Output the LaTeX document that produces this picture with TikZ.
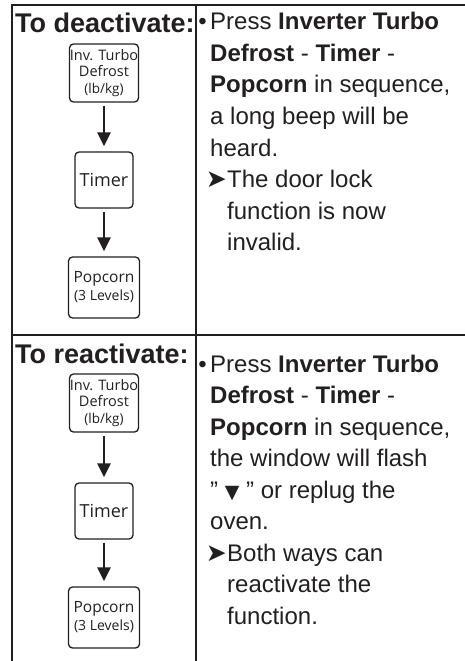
\documentclass[tikz,border=0pt]{standalone}
\usepackage{fontspec}
\setmainfont{Liberation Sans}
\newfontfamily\keyfont{Open Sans}
\newfontfamily\symfont{DejaVu Sans}
\usetikzlibrary{arrows.meta, positioning}

\definecolor{ink}{RGB}{35,31,32}

\tikzset{
	rule/.style = {draw = ink, line width = 1.4bp},
	keybox/.style = {draw = ink, line width = 1.3bp, rounded corners = 4bp, align = center, inner sep = 0pt, text = ink, font = \keyfont\fontsize{14.5bp}{16.5bp}\selectfont},
	keyarrow/.style = {draw = ink, line width = 2.6bp, -{Triangle[width = 13bp, length = 14bp]}, shorten <= 3bp, shorten >= 5bp},
	heading/.style = {anchor = base west, inner sep = 0pt, text = ink, font = \fontsize{27bp}{30bp}\selectfont\bfseries},
	body/.style = {anchor = base west, inner sep = 0pt, align = left, text = ink, font = \fontsize{24bp}{31.5bp}\selectfont},
	pointer/.style = {anchor = base east, inner sep = 0pt, text = ink, font = \symfont\fontsize{25bp}{27bp}\selectfont},
}

\begin{document}
\begin{tikzpicture}[x = 1bp, y = -1bp]
		\def\gap{31.5};
		\def\ya{30};
		\def\yb{372};
		\useasboundingbox (0,0) rectangle (465,661);
		
		% table rules
		\draw [rule] (12,661) -- (12,5) -- (465,5);
		\draw [rule] (196,5) -- (196,661);
		\draw [rule] (12,335) -- (465,335);
		
		% deactivate
		\node [heading] (deact) at (15,33) {To deactivate:};
		
		\node [keybox, minimum width = 69bp, minimum height = 58bp] (invA) at (104,73) {Inv. Turbo\\Defrost\\{\fontsize{13.5bp}{15bp}\selectfont (lb/kg)}};
		\node [keybox, minimum width = 58bp, minimum height = 56bp, font = \keyfont\fontsize{18bp}{21bp}\selectfont] (timerA) at (104,180) {Timer};
		\node [keybox, minimum width = 71bp, minimum height = 61bp, font = \keyfont\fontsize{15.5bp}{18bp}\selectfont] (popA) at (104,287.5) {Popcorn\\{\fontsize{14bp}{16bp}\selectfont (3 Levels)}};
		
		\draw [keyarrow] (invA) -- (timerA);
		\draw [keyarrow] (timerA) -- (popA);
		
		% last line of each block sits on the node's base
		\node [body, anchor = base east] (dotA) at (207,\ya) {•};
		\node [body] (stepsA) at (210,{\ya + 4*\gap}) {Press \textbf{Inverter Turbo}\\\textbf{Defrost} - \textbf{Timer} -\\\textbf{Popcorn} in sequence,\\a long beep will be\\heard.};
		\node [pointer] (markA) at (227,{\ya + 5*\gap}) {➤};
		\node [body] (noteA) at (227,{\ya + 7*\gap}) {The door lock\\function is now\\invalid.};
		
		% reactivate
		\node [heading] (react) at (15,363) {To reactivate:};
		
		\node [keybox, minimum width = 69bp, minimum height = 58bp] (invB) at (104,403) {Inv. Turbo\\Defrost\\{\fontsize{13.5bp}{15bp}\selectfont (lb/kg)}};
		\node [keybox, minimum width = 58bp, minimum height = 56bp, font = \keyfont\fontsize{18bp}{21bp}\selectfont] (timerB) at (104,511) {Timer};
		\node [keybox, minimum width = 71bp, minimum height = 61bp, font = \keyfont\fontsize{15.5bp}{18bp}\selectfont] (popB) at (104,617.5) {Popcorn\\{\fontsize{14bp}{16bp}\selectfont (3 Levels)}};
		
		\draw [keyarrow] (invB) -- (timerB);
		\draw [keyarrow] (timerB) -- (popB);
		
		\node [body, anchor = base east] (dotB) at (207,\yb) {•};
		\node [body] (stepsB) at (210,{\yb + 5*\gap}) {Press \textbf{Inverter Turbo}\\\textbf{Defrost} - \textbf{Timer} -\\\textbf{Popcorn} in sequence,\\the window will flash\\" {\symfont\fontsize{19bp}{21bp}\selectfont ▼} " or replug the\\oven.};
		\node [pointer] (markB) at (227,{\yb + 6*\gap}) {➤};
		\node [body] (noteB) at (227,{\yb + 8*\gap}) {Both ways can\\reactivate the\\function.};
	\end{tikzpicture}
\end{document}
